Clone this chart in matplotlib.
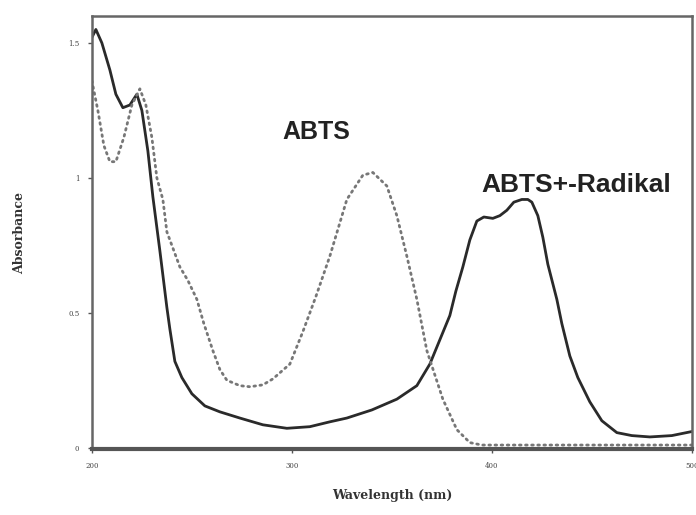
import numpy as np
import matplotlib
matplotlib.use("Agg")
from matplotlib import pyplot as plt

# ABTS radical cation (solid line)
rad_wl = [200, 202, 205, 209, 212, 215.5, 219, 222.5, 225, 228, 230.5, 234, 237.5,
          239, 241.5, 245, 250, 256.5, 264, 274, 285.5, 297.5, 309, 319, 327.5,
          340, 352.5, 362.5, 369, 374, 379, 382, 385.5, 389, 392.5, 396, 400.5,
          404, 407.5, 411, 415, 418, 420, 423, 425.5, 428, 432.5, 435, 439, 443,
          449, 455, 462.5, 470, 479, 490, 500]
rad_abs = [1.52, 1.55, 1.50, 1.40, 1.31, 1.26, 1.27, 1.31, 1.25, 1.10, 0.93, 0.73, 0.52,
           0.44, 0.32, 0.26, 0.20, 0.155, 0.133, 0.11, 0.085, 0.072, 0.078, 0.096, 0.11,
           0.14, 0.18, 0.23, 0.31, 0.40, 0.49, 0.58, 0.67, 0.77, 0.84, 0.855, 0.85,
           0.86, 0.88, 0.91, 0.92, 0.92, 0.91, 0.86, 0.78, 0.68, 0.55, 0.46, 0.34, 0.26,
           0.17, 0.10, 0.056, 0.045, 0.04, 0.045, 0.06]

# ABTS (dashed line)
abts_wl = [200, 203, 206, 209, 212, 216, 220, 224, 227, 230, 232.5, 235.5, 237.5,
           244, 248, 252.5, 256, 260.5, 264, 267.5, 274, 279, 285.5, 290.5, 299,
           305.5, 312, 319, 327.5, 335.5, 340.5, 347.5, 352.5, 357.5, 362.5, 367.5,
           375.5, 382.5, 389, 395, 420, 450, 500]
abts_abs = [1.36, 1.25, 1.12, 1.06, 1.06, 1.15, 1.27, 1.33, 1.27, 1.15, 1.0, 0.92, 0.80,
            0.67, 0.62, 0.55, 0.46, 0.36, 0.29, 0.25, 0.23, 0.226, 0.233, 0.255, 0.31,
            0.43, 0.56, 0.71, 0.92, 1.01, 1.02, 0.97, 0.86, 0.71, 0.55, 0.36,
            0.18, 0.067, 0.019, 0.01, 0.01, 0.01, 0.01]

xticks = [200, 300, 400, 500]
yticks = [0, 0.5, 1, 1.5]
ytick_labels = ["0", "0.5", "1", "1.5"]

fig = plt.figure(figsize=(6.96, 5.15), dpi=100)
ax = fig.add_axes([0.132, 0.128, 0.862, 0.841])

ax.plot(rad_wl, rad_abs, color="#2a2a2a", lw=2.0, solid_joinstyle="round")
ax.plot(abts_wl, abts_abs, color="#777777", lw=2.0, linestyle=(0, (0.6, 1.6)),
        dash_capstyle="round")

ax.set_xlim(200, 500)
ax.set_ylim(-0.005, 1.6)
ax.set_xticks(xticks)
ax.set_xticklabels([str(t) for t in xticks])
ax.set_yticks(yticks)
ax.set_yticklabels(ytick_labels)
ax.tick_params(axis="both", labelsize=5, length=3, width=1, color="#555555",
               labelcolor="#444444", pad=6)
for lab in ax.get_xticklabels() + ax.get_yticklabels():
    lab.set_family("serif")

for side in ["left", "right", "top"]:
    ax.spines[side].set_color("#666666")
    ax.spines[side].set_linewidth(1.8)
ax.spines["bottom"].set_color("#555555")
ax.spines["bottom"].set_linewidth(3)

ax.set_xlabel("Wavelength (nm)", family="serif", fontweight="bold", fontsize=9,
              color="#333333", labelpad=14)
ax.set_ylabel("Absorbance", family="serif", fontweight="bold", fontsize=9,
              color="#333333", labelpad=30)

ax.text(312, 1.17, "ABTS", family="Liberation Sans", fontweight="bold", fontsize=18,
        color="#222222", ha="center", va="center")
ax.text(442, 0.975, "ABTS+-Radikal", family="Liberation Sans", fontweight="bold",
        fontsize=19, color="#222222", ha="center", va="center")

fig.savefig("out.png", dpi=100)
